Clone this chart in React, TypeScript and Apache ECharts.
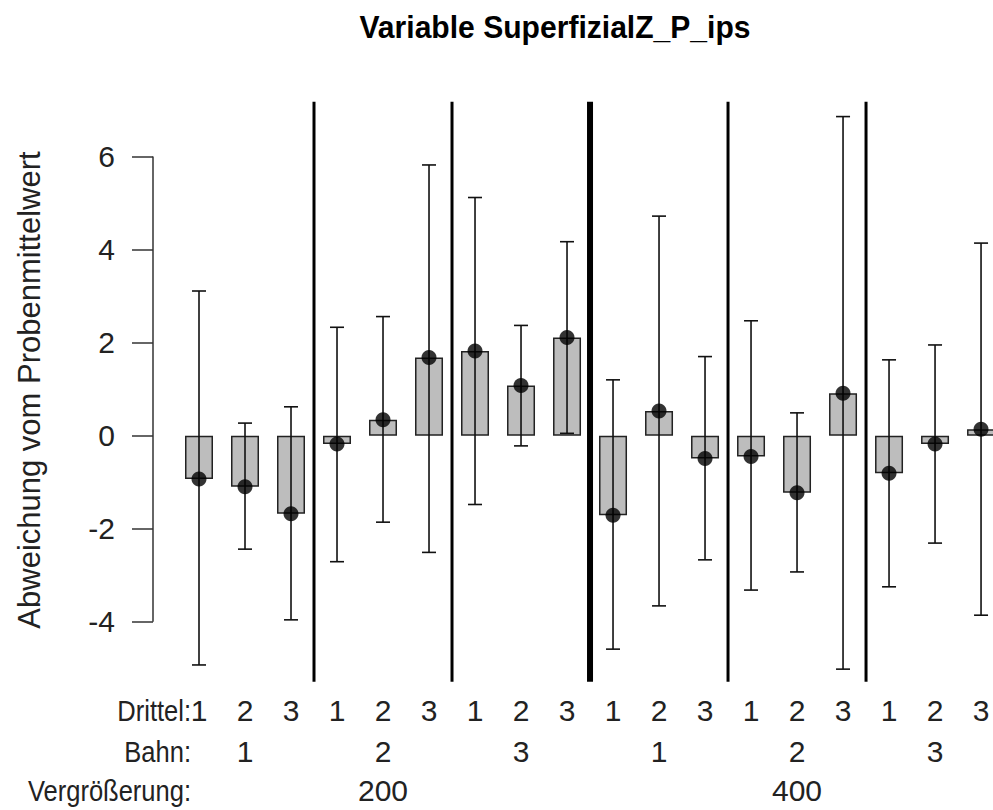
import React, { useEffect, useRef } from "react";
import * as echarts from "echarts";

// Mean deviation per Drittel (bar height / point) and its interval bounds
const means = [-0.93, -1.10, -1.68, -0.18, 0.34, 1.68, 1.82, 1.08, 2.11, -1.71, 0.53, -0.49, -0.45, -1.23, 0.91, -0.81, -0.18, 0.14];
const upper = [3.11, 0.27, 0.62, 2.33, 2.56, 5.82, 5.12, 2.37, 4.17, 1.20, 4.72, 1.70, 2.47, 0.49, 6.86, 1.63, 1.95, 4.14];
const lower = [-4.93, -2.44, -3.96, -2.71, -1.86, -2.51, -1.48, -0.22, 0.05, -4.59, -3.66, -2.67, -3.32, -2.93, -5.02, -3.25, -2.31, -3.86];

// Grouping labels
const drittel = ["1", "2", "3", "1", "2", "3", "1", "2", "3", "1", "2", "3", "1", "2", "3", "1", "2", "3"];
const bahn = ["1", "2", "3", "1", "2", "3"];
const vergroesserung = ["200", "400"];
const yTicks = [-4, -2, 0, 2, 4, 6];

const Y_MIN = -5.29;
const Y_MAX = 7.18;
const X_MIN = 0;
const X_MAX = 18.26;

const FONT = "'Liberation Sans', Arial, Helvetica, sans-serif";

export default function App() {
  const ref = useRef<HTMLDivElement>(null);

  useEffect(() => {
    if (!ref.current) return;
    const chart = echarts.init(ref.current, null, { renderer: "svg" });

    const xs = means.map((_, i) => i + 1);
    const barData = means.map((m, i) => [xs[i], m]);
    const errData = means.map((_, i) => [xs[i], lower[i], upper[i]]);

    // Bahn groups of 3 Drittel; Vergrößerung groups of 3 Bahnen
    const bahnPos = bahn.map((_, j) => j * 3 + 2);
    const vergPos = vergroesserung.map((_, k) => k * 9 + 5);

    // separators between Bahn groups; heavier between magnifications
    const sepData: number[][] = [];
    for (let j = 1; j < bahn.length; j++) {
      const x = j * 3 + 0.5;
      sepData.push([x, j % 3 === 0 ? 6 : 3]);
    }

    const baseX = {
      type: "value" as const,
      min: X_MIN,
      max: X_MAX,
      gridIndex: 0,
      axisLine: { show: false },
      axisTick: { show: false },
      splitLine: { show: false },
    };
    const labelStyle = {
      fontFamily: FONT,
      fontSize: 30,
      color: "#222",
      verticalAlign: "middle" as const,
    };

    const option: any = {
      animation: false,
      backgroundColor: "#ffffff",
      grid: { left: 153, right: 0, top: 101.7, bottom: 128.3, containLabel: false },
      xAxis: [
        {
          ...baseX,
          axisLabel: {
            ...labelStyle,
            margin: 29,
            customValues: xs,
            formatter: (v: number) => drittel[Math.round(v) - 1] ?? "",
          },
        },
        {
          ...baseX,
          position: "bottom",
          axisLabel: {
            ...labelStyle,
            margin: 70,
            customValues: bahnPos,
            formatter: (v: number) => bahn[bahnPos.indexOf(Math.round(v))] ?? "",
          },
        },
        {
          ...baseX,
          position: "bottom",
          axisLabel: {
            ...labelStyle,
            margin: 109,
            customValues: vergPos,
            formatter: (v: number) => vergroesserung[vergPos.indexOf(Math.round(v))] ?? "",
          },
        },
      ],
      yAxis: {
        type: "value",
        min: Y_MIN,
        max: Y_MAX,
        axisLine: { show: false },
        splitLine: { show: false },
        axisTick: {
          show: true,
          length: 21,
          customValues: yTicks,
          lineStyle: { color: "#333", width: 1.5 },
        },
        axisLabel: {
          customValues: yTicks,
          margin: 38,
          fontFamily: FONT,
          fontSize: 30,
          color: "#222",
        },
      },
      graphic: [
        {
          type: "text",
          x: 555,
          y: 27,
          scaleX: 0.94,
          style: {
            text: "Variable SuperfizialZ_P_ips",
            font: `bold 32px ${FONT}`,
            fill: "#000",
            textAlign: "center",
            textVerticalAlign: "middle",
          },
        },
        {
          type: "text",
          x: 29,
          y: 390,
          rotation: Math.PI / 2,
          style: {
            text: "Abweichung vom Probenmittelwert",
            font: `31px ${FONT}`,
            fill: "#222",
            textAlign: "center",
            textVerticalAlign: "middle",
          },
        },
        ...[
          ["Drittel:", 711],
          ["Bahn:", 752],
          ["Vergrößerung:", 791],
        ].map(([t, y]) => ({
          type: "text",
          x: 191,
          y: y as number,
          scaleX: 0.88,
          style: {
            text: t as string,
            font: `29px ${FONT}`,
            fill: "#222",
            textAlign: "right",
            textVerticalAlign: "middle",
          },
        })),
      ],
      series: [
        {
          type: "bar",
          data: barData,
          barWidth: 28,
          itemStyle: { color: "#bdbdbd", borderColor: "#222", borderWidth: 1.5 },
          z: 2,
        },
        {
          // interval whiskers with caps
          type: "custom",
          data: errData,
          clip: false,
          z: 3,
          renderItem: (_params: any, api: any) => {
            const x = api.value(0);
            const lo = api.coord([x, api.value(1)]);
            const hi = api.coord([x, api.value(2)]);
            const cap = 7;
            const st = { stroke: "#111", lineWidth: 1.6 };
            return {
              type: "group",
              children: [
                { type: "line", shape: { x1: lo[0], y1: lo[1], x2: hi[0], y2: hi[1] }, style: st },
                { type: "line", shape: { x1: lo[0] - cap, y1: lo[1], x2: lo[0] + cap, y2: lo[1] }, style: st },
                { type: "line", shape: { x1: hi[0] - cap, y1: hi[1], x2: hi[0] + cap, y2: hi[1] }, style: st },
              ],
            };
          },
        },
        {
          type: "scatter",
          data: barData,
          symbol: "circle",
          symbolSize: 15,
          itemStyle: { color: "#000" },
          clip: false,
          z: 4,
        },
        {
          // group separators spanning the plot region
          type: "custom",
          data: sepData,
          clip: false,
          z: 5,
          renderItem: (_params: any, api: any) => {
            const x = api.value(0);
            const a = api.coord([x, Y_MIN]);
            const b = api.coord([x, Y_MAX]);
            return {
              type: "line",
              shape: { x1: a[0], y1: a[1], x2: b[0], y2: b[1] },
              style: { stroke: "#000", lineWidth: api.value(1) },
            };
          },
        },
        {
          // y axis line over the tick range only
          type: "custom",
          data: [[0, yTicks[0], yTicks[yTicks.length - 1]]],
          clip: false,
          z: 5,
          renderItem: (_params: any, api: any) => {
            const a = api.coord([api.value(0), api.value(1)]);
            const b = api.coord([api.value(0), api.value(2)]);
            return {
              type: "line",
              shape: { x1: a[0], y1: a[1], x2: b[0], y2: b[1] },
              style: { stroke: "#333", lineWidth: 1.5 },
            };
          },
        },
      ],
    };

    chart.setOption(option);
    return () => chart.dispose();
  }, []);

  return (
    <div
      ref={ref}
      style={{ position: "absolute", left: 0, top: 0, width: 993, height: 810 }}
    />
  );
}
